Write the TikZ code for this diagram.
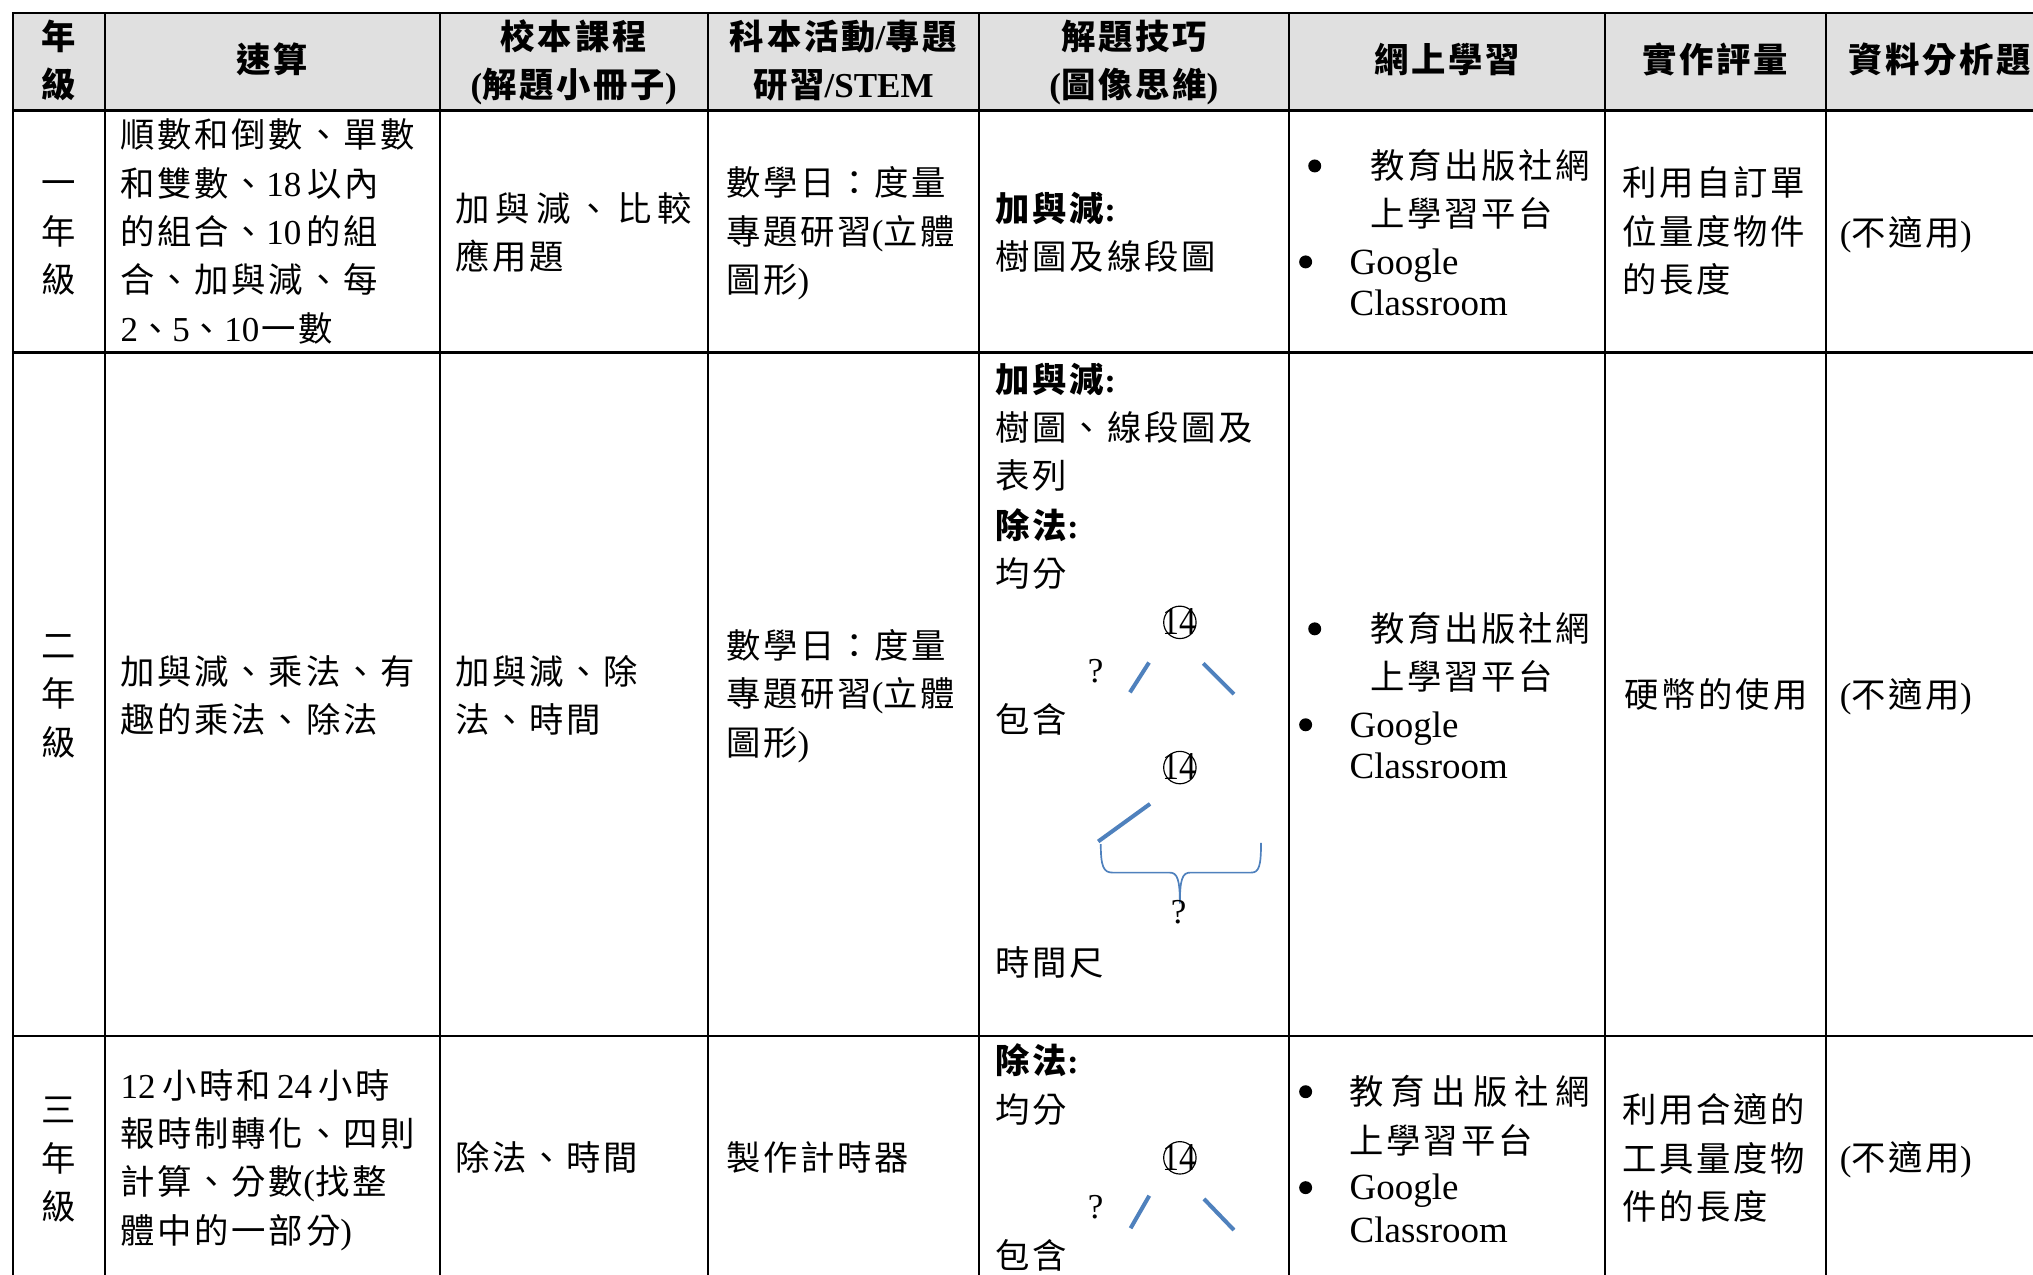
\documentclass[tikz,border=0pt]{standalone}
\usepackage{fontspec}
\usepackage{graphicx}
\setmainfont{Liberation Serif}
\newfontfamily\cjk{Noto Sans CJK TC}[LetterSpace=8]
\definecolor{lnblue}{RGB}{79,129,189}
\definecolor{hdgray}{RGB}{224,224,224}
\newcommand\en[1]{{\rmfamily\fontsize{27}{37}\selectfont #1}}
\newcommand\cjksize{\fontsize{26.5}{37}\selectfont}
\tikzset{
  txt/.style={anchor=base west, inner sep=0pt, outer sep=0pt, font=\cjksize\cjk},
  ctxt/.style={txt, anchor=base},
  hd/.style={ctxt, font=\cjksize\cjk\bfseries},
  bd/.style={txt, font=\cjksize\cjk\bfseries},
  lat/.style={anchor=base west, inner sep=0pt, outer sep=0pt, font=\rmfamily\fontsize{28.5}{37}\selectfont},
  qmark/.style={anchor=base, inner sep=0pt, outer sep=0pt, font=\rmfamily\fontsize{27}{37}\selectfont},
  gridh/.style={line width=2.2pt},
  gridv/.style={line width=1.6pt},
  stroke/.style={draw=lnblue, line width=3.1pt},
  bracestyle/.style={draw=lnblue, line width=1.3pt},
  ring/.style={draw, line width=0.9pt, circle, minimum size=25pt, inner sep=0pt},
  dotmark/.style={fill, circle, minimum size=10pt, inner sep=0pt},
}
\newcommand\tlines[4]{\foreach \t [count=\i from 0] in {#4} {\node[txt] (#1\i) at (#2,#3+\i*37.25) {\t};}}
\newcommand\clines[4]{\foreach \t [count=\i from 0] in {#4} {\node[ctxt] (#1\i) at (#2,#3+\i*37.25) {\t};}}
\newcommand\fourteen{\scalebox{0.9}[1.05]{\fontsize{29}{37}\selectfont 14}}
\begin{document}
\begin{tikzpicture}[x=1pt,y=-1pt]
\useasboundingbox (0,0) rectangle (1568,983);
\clip (0,0) rectangle (1568,983);
\fill[white] (0,0) rectangle (1568,983);
% header background
\fill[hdgray] (10,10) rectangle (1584,85);
% grid
\foreach \y in {10,85,272,799} \draw[gridh] (9.2,\y) -- (1600,\y);
\foreach \x in {10,81,339,546,755,994,1238,1408,1584} \draw[gridv] (\x,10) -- (\x,1000);

% ---------- header ----------
\node[hd] (h1a) at (45.5,38) {年};
\node[hd] (h1b) at (45.5,75) {級};
\node[hd] (h2) at (210,56) {速算};
\node[hd] (h3a) at (442.5,38) {校本課程};
\node[hd] (h3b) at (442.5,75) {\en{(}解題小冊子\en{)}};
\node[hd] (h4a) at (650.5,38) {科本活動\en{/}專題};
\node[hd] (h4b) at (650.5,75) {研習\en{/STEM}};
\node[hd] (h5a) at (874.5,38) {解題技巧};
\node[hd] (h5b) at (874.5,75) {\en{(}圖像思維\en{)}};
\node[hd] (h6) at (1116,56) {網上學習};
\node[hd] (h7) at (1323,56) {實作評量};
\node[hd] (h8) at (1496,56) {資料分析題};

% ---------- row 1 ----------
\clines{ra}{45.5}{151}{一,年,級}
\tlines{rb}{93}{114}{順數和倒數、單數,和雙數、\en{18\hspace{5pt}}以內,的組合、\en{10\hspace{4pt}}的組,合、加與減、每,\en{2}、\en{5}、\en{10\hspace{2pt}}一數}
\node[txt] (rc0) at (351,171) {\makebox[183pt][s]{加\hfill 與\hfill 減\hfill 、\hfill 比\hfill 較}};
\node[txt] (rc1) at (351,208) {應用題};
\tlines{rd}{560}{151}{數學日：度量,專題研習\en{(}立體,圖形\en{)}}
\node[bd] (re0) at (768,171) {加與減\en{:}};
\node[txt] (re1) at (768,208) {樹圖及線段圖};
\node[dotmark] (rf0) at (1014,128) {};
\node[txt] (rf1) at (1057,138) {教育出版社網};
\node[txt] (rf2) at (1057,175) {上學習平台};
\node[dotmark] (rf3) at (1007,202) {};
\node[lat] (rf4) at (1041,211.5) {Google};
\node[lat] (rf5) at (1041,243.5) {Classroom};
\tlines{rg}{1251}{151}{利用自訂單,位量度物件,的長度}
\node[txt] (rh) at (1419,189) {\en{(}不適用\en{)}};

% ---------- row 2 ----------
\clines{sa}{45.5}{508}{二,年,級}
\tlines{sb}{93}{528}{加與減、乘法、有,趣的乘法、除法}
\tlines{sc}{351}{528}{加與減、除,法、時間}
\tlines{sd}{560}{508}{數學日：度量,專題研習\en{(}立體,圖形\en{)}}
\node[bd] (se0) at (768,303) {加與減\en{:}};
\node[txt] (se1) at (768,340) {樹圖、線段圖及};
\node[txt] (se2) at (768,377) {表列};
\node[bd] (se3) at (768,415) {除法\en{:}};
\node[txt] (se4) at (768,452) {均分};
\node[txt] (se5) at (768,565) {包含};
\node[txt] (se6) at (768,752) {時間尺};
% tree 1
\node[ring] (t1) at (910,480) {};
\node[qmark] (t1n) at (910,489.5) {\fourteen};
\node[qmark] (t1q) at (845,526.5) {?};
\coordinate (t1a) at (871.5,534);
\coordinate (t1b) at (886.2,511);
\coordinate (t1c) at (928,511.6);
\coordinate (t1d) at (951.7,535.3);
\draw[stroke] (t1a) -- (t1b);
\draw[stroke] (t1c) -- (t1d);
% tree 2
\node[ring] (t2) at (910,592) {};
\node[qmark] (t2n) at (910,601.5) {\fourteen};
\coordinate (t2a) at (847,649);
\coordinate (t2b) at (887,620);
\draw[stroke] (t2a) -- (t2b);
\coordinate (brl) at (849,651);
\coordinate (brm) at (910,697);
\coordinate (brr) at (972.6,650);
\draw[bracestyle] (brl) .. controls (849,668) and (851,673) .. (858,673) -- (902,673)
   .. controls (908,673) and (910,678) .. (brm)
   .. controls (910,678) and (912,673) .. (918,673) -- (965,673)
   .. controls (971,673) and (972.6,668) .. (brr);
\node[qmark] (t2q) at (909,712) {?};
% online learning, assessment, data
\node[dotmark] (sf0) at (1014,485) {};
\node[txt] (sf1) at (1057,495) {教育出版社網};
\node[txt] (sf2) at (1057,532) {上學習平台};
\node[dotmark] (sf3) at (1007,559) {};
\node[lat] (sf4) at (1041,568.5) {Google};
\node[lat] (sf5) at (1041,600.5) {Classroom};
\node[txt] (sg) at (1253,546) {硬幣的使用};
\node[txt] (sh) at (1419,546) {\en{(}不適用\en{)}};

% ---------- row 3 ----------
\clines{ua}{45.5}{866}{三,年,級}
\tlines{ub}{93}{847}{\en{12\hspace{5pt}}小時和\en{\hspace{5pt}24\hspace{5pt}}小時,報時制轉化、四則,計算、分數\en{(}找整,體中的一部分\en{)}}
\node[txt] (uc) at (351,903) {除法、時間};
\node[txt] (ud) at (560,903) {製作計時器};
\node[bd] (ue0) at (768,828) {除法\en{:}};
\node[txt] (ue1) at (768,866) {均分};
\node[txt] (ue2) at (768,978) {包含};
\node[ring] (t3) at (910,893) {};
\node[qmark] (t3n) at (910,902.5) {\fourteen};
\node[qmark] (t3q) at (845,940) {?};
\coordinate (t3a) at (872,947.3);
\coordinate (t3b) at (886.4,922.2);
\coordinate (t3c) at (928.6,924.7);
\coordinate (t3d) at (951.7,948.7);
\draw[stroke] (t3a) -- (t3b);
\draw[stroke] (t3c) -- (t3d);
\node[dotmark] (uf0) at (1007,842) {};
\node[txt] (uf1) at (1041,852) {\makebox[185pt][s]{教\hfill 育\hfill 出\hfill 版\hfill 社\hfill 網}};
\node[txt] (uf2) at (1041,890) {上學習平台};
\node[dotmark] (uf3) at (1007,916) {};
\node[lat] (uf4) at (1041,925.5) {Google};
\node[lat] (uf5) at (1041,958.5) {Classroom};
\tlines{ug}{1251}{866}{利用合適的,工具量度物,件的長度}
\node[txt] (uh) at (1419,903) {\en{(}不適用\en{)}};
\end{tikzpicture}
\end{document}
